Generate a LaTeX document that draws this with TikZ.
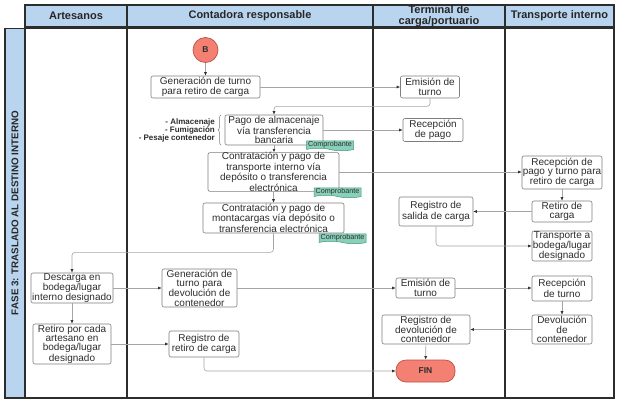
\documentclass[tikz,border=0pt]{standalone}
\usepackage{fontspec}
\setmainfont{Liberation Sans}
\usetikzlibrary{arrows.meta,shapes.symbols,decorations.pathreplacing,calc}
\definecolor{hdrblue}{RGB}{185,212,238}
\definecolor{lanedark}{RGB}{45,45,45}
\definecolor{boxgray}{RGB}{125,125,125}
\definecolor{txtgray}{RGB}{45,45,45}
\definecolor{conngray}{RGB}{165,165,165}
\definecolor{tipgray}{RGB}{50,50,50}
\definecolor{salmon}{RGB}{243,128,114}
\definecolor{salmonb}{RGB}{190,80,70}
\definecolor{tagfill}{RGB}{136,208,186}
\definecolor{tagb}{RGB}{70,150,125}
\begin{document}
\begin{tikzpicture}[x=1pt,y=-1pt,
  hdrcell/.style={draw=lanedark, line width=1.1pt, fill=hdrblue, align=center, inner sep=0pt,
    font=\fontsize{11}{10.5}\selectfont\bfseries, text=black!85},
  lane/.style={draw=lanedark, line width=1.1pt},
  box/.style={draw=boxgray, line width=0.6pt, rounded corners=2pt, fill=white, align=center,
    inner sep=0pt, text=txtgray, font=\fontsize{10}{9.3}\selectfont},
  term/.style={draw=salmonb, line width=0.7pt, fill=salmon, inner sep=0pt, text=txtgray,
    font=\fontsize{8.5}{8.5}\selectfont\bfseries},
  tagdoc/.style={shape=tape, tape bend top=none, tape bend bottom=out and in, tape bend height=2.5pt,
    draw=tagb, fill=tagfill, line width=0.5pt, minimum width=47pt, minimum height=10pt,
    inner sep=0pt, text=txtgray, font=\fontsize{7.2}{7.2}\selectfont},
  conn/.style={draw=conngray, line width=0.6pt, rounded corners=3pt,
    -{Latex[length=3.5pt,width=3pt,color=tipgray]}}
]
\useasboundingbox (0,0) rectangle (620,402);
% header
\node[hdrcell, minimum width=102pt, minimum height=22pt] (hA) at (76,16) {Artesanos};
\node[hdrcell, minimum width=246pt, minimum height=22pt] (hC) at (250,16) {Contadora responsable};
\node[hdrcell, minimum width=132pt, minimum height=22pt] (hT) at (439,16) {Terminal de\\carga/portuario};
\node[hdrcell, minimum width=109pt, minimum height=22pt] (hI) at (559.5,16) {Transporte interno};
% phase band and lanes
\draw[lane, fill=hdrblue] (5,28.5) rectangle (25,398);
\node[rotate=90, font=\fontsize{9.8}{9.8}\selectfont\bfseries, text=black!85] (phase) at (15,213)
  {FASE 3: TRASLADO AL DESTINO INTERNO};
\draw[lane] (25,28.5) rectangle (614,398);
\draw[lane] (127,28.5) -- (127,398);
\draw[lane] (373,28.5) -- (373,398);
\draw[lane] (505,28.5) -- (505,398);
% nodes
\node[term, circle, minimum size=25pt] (B) at (205.5,50) {B};
\node[box, minimum width=109pt, minimum height=22pt] (genA) at (205.5,87) {Generación de turno\\para retiro de carga};
\node[box, minimum width=59pt, minimum height=22pt] (emiA) at (430,87) {Emisión de\\turno};
\node[box, minimum width=98pt, minimum height=30pt] (pago) at (274,130) {Pago de almacenaje\\vía transferencia\\bancaria};
\node[box, minimum width=60pt, minimum height=23pt] (recpago) at (433,130) {Recepción\\de pago};
\node[box, minimum width=131pt, minimum height=38pt] (contrans) at (273.5,172) {Contratación y pago de\\transporte interno vía\\depósito o transferencia\\electrónica};
\node[box, minimum width=80pt, minimum height=33pt] (recpt) at (562,172.5) {Recepción de\\pago y turno para\\retiro de carga};
\node[box, minimum width=141pt, minimum height=30pt] (monta) at (273.5,218) {Contratación y pago de\\montacargas vía depósito o\\transferencia electrónica};
\node[box, minimum width=60pt, minimum height=21pt] (retiro) at (562,211.5) {Retiro de\\carga};
\node[box, minimum width=74pt, minimum height=29pt] (regsal) at (436,211.5) {Registro de\\salida de carga};
\node[box, minimum width=60pt, minimum height=30pt] (transb) at (562,246) {Transporte a\\bodega/lugar\\designado};
\node[box, minimum width=82pt, minimum height=30pt] (descarga) at (72,288) {Descarga en\\bodega/lugar\\interno designado};
\node[box, minimum width=75pt, minimum height=38pt] (gendev) at (199.5,288) {Generación de\\turno para\\devolución de\\contenedor};
\node[box, minimum width=59pt, minimum height=20pt] (emiB) at (425.5,288) {Emisión de\\turno};
\node[box, minimum width=60pt, minimum height=25pt] (recturno) at (562,288.5) {Recepción\\de turno};
\node[box, minimum width=60pt, minimum height=29pt] (devol) at (562,329.5) {Devolución\\de\\contenedor};
\node[box, minimum width=88pt, minimum height=29pt] (regdev) at (426,329.5) {Registro de\\devolución de\\contenedor};
\node[term, rounded corners=10pt, minimum width=59pt, minimum height=22pt] (fin) at (425.5,371) {FIN};
\node[box, minimum width=78pt, minimum height=40pt] (retart) at (72,344) {Retiro por cada\\artesano en\\bodega/lugar\\designado};
\node[box, minimum width=70pt, minimum height=26pt] (regret) at (204,344) {Registro de\\retiro de carga};
% tags
\node[tagdoc] (tag1) at (330,144.5) {Comprobante};
\node[tagdoc] (tag2) at (337.5,191.5) {Comprobante};
\node[tagdoc] (tag3) at (342.5,237.5) {Comprobante};
% brace and list
\draw[draw=boxgray, line width=0.5pt, decorate, decoration={brace, amplitude=3pt}] (221,145) -- (221,115);
\node[anchor=east, align=right, inner sep=0pt, text=txtgray, font=\fontsize{8}{8}\selectfont\bfseries] (lst) at (215,130)
  {- Almacenaje\\- Fumigación\\- Pesaje contenedor};
% connectors
\draw[conn] (B) -- (genA);
\draw[conn] (genA) -- (emiA);
\draw[conn] (emiA.south) -- ++(0,8) -| (pago.north);
\draw[conn] (pago) -- (recpago);
\draw[conn] (pago.south) -- (pago.south |- contrans.north);
\draw[conn] (contrans.east) -- (contrans.east -| recpt.west);
\draw[conn] (contrans.south) -- (contrans.south |- monta.north);
\draw[conn] (monta.south) -- ++(0,19) -| (descarga.north);
\draw[conn] (recpt) -- (retiro);
\draw[conn] (retiro.west) -- (retiro.west -| regsal.east);
\draw[conn] (regsal.south) |- (transb.west);
\draw[conn] (descarga) -- (gendev);
\draw[conn] (descarga) -- (retart);
\draw[conn] (gendev) -- (emiB);
\draw[conn] (emiB) -- (recturno.west |- emiB);
\draw[conn] (recturno) -- (devol);
\draw[conn] (devol) -- (regdev);
\draw[conn] (regdev) -- (fin);
\draw[conn] (retart) -- (regret);
\draw[conn] (regret.south) |- (fin.west);
\end{tikzpicture}
\end{document}
